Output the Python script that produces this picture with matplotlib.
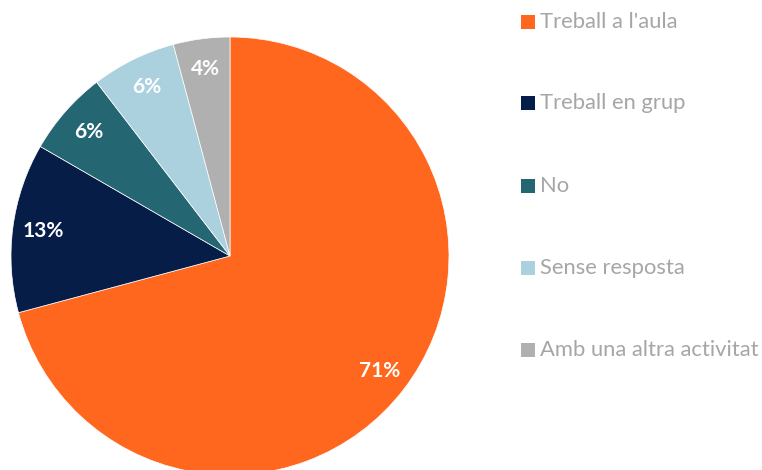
import matplotlib
matplotlib.use("Agg")
import matplotlib.pyplot as plt
from matplotlib.patches import Rectangle

categories = ["Treball a l'aula", "Treball en grup", "No", "Sense resposta", "Amb una altra activitat"]
counts = [34, 6, 3, 3, 2]
colors = ["#FF671F", "#061D47", "#246672", "#ABD1DF", "#B0B0B0"]

plt.rcParams['font.family'] = ['Lato', 'DejaVu Sans']

W, H = 762, 470
fig = plt.figure(figsize=(W / 100, H / 100), dpi=100)
cx, cy, R = 230, 256, 219
ax = fig.add_axes([(cx - R) / W, (H - cy - R) / H, 2 * R / W, 2 * R / H])
wedges, texts, autotexts = ax.pie(
    counts, colors=colors, startangle=90, counterclock=False,
    autopct=lambda p: f"{int(p + 0.5)}%", pctdistance=0.86, radius=1.0,
    wedgeprops=dict(linewidth=0.5, edgecolor="white"),
    textprops=dict(color="white", fontsize=15, fontweight="bold"))
ax.set_xlim(-1, 1)
ax.set_ylim(-1, 1)
ax.set_aspect("equal")
ax.axis("off")

ys = [22, 103, 186, 268, 350]
for lab, col, y in zip(categories, colors, ys):
    fig.patches.append(Rectangle(((521) / W, 1 - (y + 7) / H), 14 / W, 14 / H,
                                 transform=fig.transFigure, facecolor=col, edgecolor="none"))
    fig.text(540 / W, 1 - y / H, lab, color="#A6A6A6", fontsize=15.8, va="center", ha="left")

fig.savefig("out.png", dpi=100)
